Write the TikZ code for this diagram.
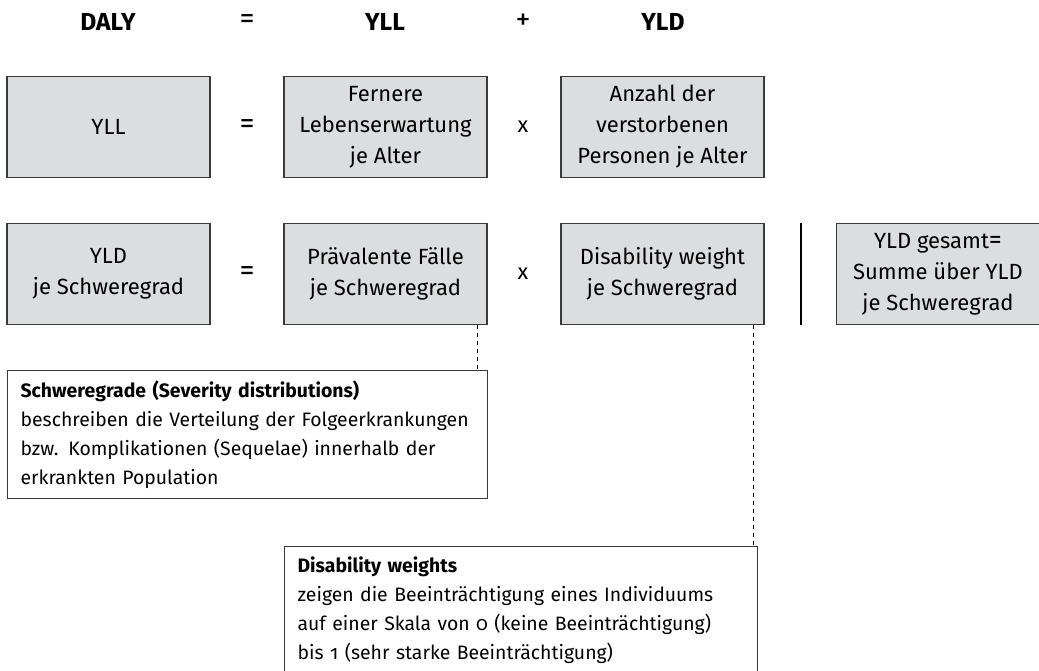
\documentclass[tikz,border=0pt]{standalone}
\usepackage{fontspec}
\setmainfont{Fira Sans}[Numbers=OldStyle]
\usepackage{xcolor}
\usepackage{tikz}
\usetikzlibrary{positioning,calc}
\definecolor{boxgrey}{HTML}{DCDDDE}
\definecolor{linegrey}{HTML}{3A3A3A}

\begin{document}
\begin{tikzpicture}[x=0.5pt, y=-0.5pt,
    term/.style={draw=linegrey, fill=boxgrey, line width=0.6pt, minimum width=101.5pt, minimum height=50.5pt, align=center, font=\fontsize{11}{15.5}\selectfont},
    note/.style={draw=linegrey, fill=white, line width=0.6pt, anchor=north west, align=left, inner xsep=6.5pt, inner ysep=5pt, font={\fontsize{9.7}{14.5}\selectfont\hyphenpenalty=10000\relax}},
    op/.style={font=\fontsize{15}{16}\selectfont},
    head/.style={font=\bfseries\fontsize{12.3}{14}\selectfont},
    link/.style={draw=black, line width=0.5pt, dash pattern=on 2pt off 2pt}]
    \useasboundingbox (0,0) rectangle (1039,670);

    % Kopfzeile
    \node[head] (daly) at (108,22) {DALY};
    \node[op] (eqh) at (247,22) {=};
    \node[head] (yllh) at (385,22) {YLL};
    \node[op] (plus) at (523,22) {+};
    \node[head] (yldh) at (663,22) {YLD};

    % YLL
    \node[term] (yll) at (108.5,127) {YLL};
    \node[op] (eq1) at (247,127) {=};
    \node[term] (leben) at (385.5,127) {Fernere\\Lebenserwartung\\je Alter};
    \node[op, font=\fontsize{11}{14}\selectfont] (mal1) at (523,127) {x};
    \node[term] (tote) at (662.5,127) {Anzahl der\\verstorbenen\\Personen je Alter};

    % YLD
    \node[term] (yld) at (108.5,274) {YLD\\je Schweregrad};
    \node[op] (eq2) at (247,274) {=};
    \node[term] (praev) at (385.5,274) {Prävalente Fälle\\je Schweregrad};
    \node[op, font=\fontsize{11}{14}\selectfont] (mal2) at (523,274) {x};
    \node[term] (weight) at (662.5,274) {Disability weight\\je Schweregrad};
    \coordinate (bartop) at (801,223);
    \coordinate (barbot) at (801,325);
    \draw[line width=1pt] (bartop) -- (barbot);
    \node[term] (gesamt) at (938,274) {YLD gesamt{\fontsize{13}{15.5}\selectfont=}\\Summe über YLD\\je Schweregrad};

    % Erklaerungen
    \node[note, text width=227pt, minimum height=64pt] (sev) at (7,370) {\textbf{Schweregrade (Severity distributions)}\\beschreiben die Verteilung der Folgeerkrankungen\\bzw. Komplikationen (Sequelae) innerhalb der\\erkrankten Population};
    \node[note, text width=223.5pt, minimum height=61.5pt] (dw) at (284,546) {\textbf{Disability weights}\\zeigen die Beeinträchtigung eines Individuums\\auf einer Skala von 0 (keine Beeinträchtigung)\\bis 1 (sehr starke Beeinträchtigung)};

    \draw[link] ([xshift=-5pt]praev.south east) -- ([xshift=-5pt]praev.south east |- sev.north);
    \draw[link] ([xshift=-5.5pt]weight.south east) -- ([xshift=-5.5pt]weight.south east |- dw.north);
\end{tikzpicture}
\end{document}
